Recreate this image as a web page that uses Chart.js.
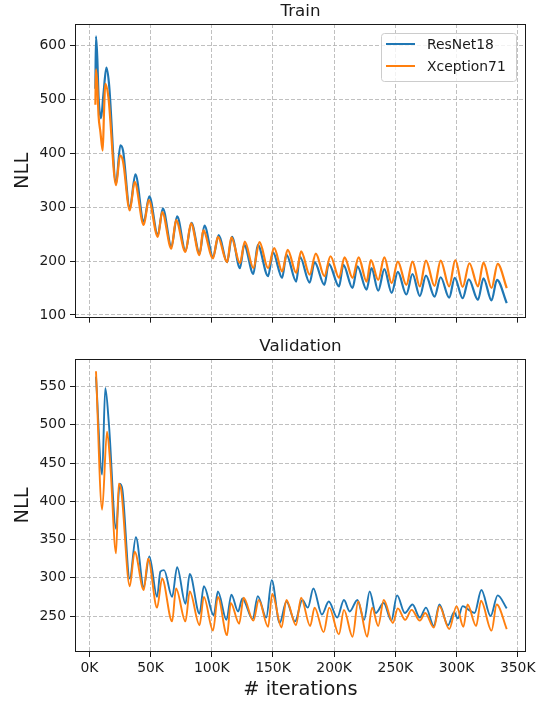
<!DOCTYPE html>
<html>
<head>
<meta charset="utf-8">
<script src="https://cdn.jsdelivr.net/npm/chart.js@4.4.1/dist/chart.umd.min.js"></script>
<style>
  html, body { margin: 0; padding: 0; background: #fff; }
  #wrap { position: relative; width: 542px; height: 702px; }
  canvas { position: absolute; left: 0; }
  #train { top: 0; }
  #valid { top: 330px; }
</style>
</head>
<body>
<div id="wrap">
  <canvas id="train" width="542" height="330"></canvas>
  <canvas id="valid" width="542" height="372"></canvas>
</div>
<script>
// ---- data: iterations in thousands, NLL ----
const seriesNames  = ['ResNet18', 'Xception71'];
const seriesColors = ['#1f77b4', '#ff7f0e'];

const xTicks      = [0, 50, 100, 150, 200, 250, 300, 350];
const xTickLabels = ['0K', '50K', '100K', '150K', '200K', '250K', '300K', '350K'];
const trainTicks  = [100, 200, 300, 400, 500, 600];
const validTicks  = [250, 300, 350, 400, 450, 500, 550];

const resnetTrainK = [4.9, 5.4, 6.5, 7.5, 9.5, 11.5, 13.9, 16, 21.8, 25.3, 27.5, 33, 37.6, 44.4, 49, 55.9, 60, 67, 71.7, 78.5,
  83.4, 90, 94, 101, 105.7, 112.5, 116.5, 123, 126.5, 134, 137.6, 146, 150, 157.5, 161, 169, 172, 180, 184, 192,
  195.6, 204, 207.5, 215, 219, 226.5, 230.5, 236, 241, 247, 252, 259, 264, 270, 275, 282, 287, 294, 298.5, 305,
  310, 317.5, 322, 328.6, 333, 341];
const resnetTrainNLL = [520, 617, 575, 505, 465, 510, 559, 530, 344, 415, 405, 298, 361, 273, 320, 248, 298, 227, 283, 219,
  271, 214, 266, 208, 248, 198, 245, 187, 230, 176, 230, 172, 216, 169, 212, 162, 208, 160, 198, 156,
  195, 153, 193, 150, 190, 147, 187, 145, 185, 141, 180, 138, 176, 135, 173, 134, 170, 132, 169, 131,
  166, 128, 168, 127, 165, 122];

const xceptionTrainK = [4.9, 5.4, 6.5, 7.5, 9, 10.9, 12, 13, 15.5, 21.8, 25, 27.5, 33, 37, 44.4, 48.5, 55.9, 59.5, 67, 70.8,
  78.5, 83, 90, 93, 101, 105, 112.5, 116, 123, 127, 134, 139, 146, 151, 157.5, 162, 169, 173, 180, 185,
  192, 197, 204, 208.5, 215, 220, 226.5, 230, 236, 241, 247, 252, 259, 264, 270, 275, 282, 287, 294, 299,
  305, 310.5, 317.5, 322, 328.6, 333.6, 341];
const xceptionTrainNLL = [490, 556, 525, 470, 440, 405, 480, 529, 505, 341, 396, 385, 294, 347, 267, 313, 245, 291, 223, 276,
  217, 270, 211, 257, 205, 245, 198, 244, 196, 236, 187, 235, 187, 224, 181, 221, 178, 218, 175, 214,
  172, 209, 169, 207, 169, 207, 162, 202, 165, 207, 159, 199, 156, 199, 153, 201, 154, 201, 153, 202,
  152, 196, 153, 197, 150, 195, 150];

const resnetValidK = [5.4, 10.4, 13, 16, 21.8, 24.8, 27, 33, 38, 44.4, 49, 55.3, 58, 61, 67.6, 71.7, 78.5, 82, 90, 93.5,
  101.6, 105, 112, 116, 121.5, 125, 133.4, 137.6, 144.5, 149, 155.5, 161, 168, 174, 178.5, 183, 190, 195.6, 202.5, 208,
  212.7, 219, 224.5, 229, 234, 240.5, 246.7, 251.4, 257.8, 264, 270, 275, 281.4, 286, 293, 298, 301, 305, 310, 314.7,
  320.3, 327.8, 333.6, 341];
const resnetValidNLL = [563, 435, 548, 500, 364, 423, 415, 299, 353, 288, 328, 275, 308, 310, 275, 314, 266, 305, 253, 289,
  251, 282, 245, 278, 256, 273, 246, 276, 248, 297, 241, 269, 243, 271, 261, 286, 252, 269, 248, 271,
  256, 271, 245, 282, 254, 267, 244, 277, 254, 265, 248, 261, 237, 265, 238, 255, 247, 263, 258, 254,
  284, 250, 277, 260];

const xceptionValidK = [5.4, 10.4, 14.4, 17, 21.8, 24, 26, 33, 37, 44.4, 48, 55.3, 59.4, 67.6, 70.8, 78.5, 82, 90, 93.5, 101,
  105, 112.5, 115.5, 122.4, 126, 134, 138.4, 146, 149.4, 157, 161, 168.8, 173, 180.4, 184, 191.4, 196, 203.9, 208, 215,
  219.6, 227, 231, 236, 240.5, 248, 252, 258, 263.3, 270, 274.4, 281.4, 286, 294, 300, 305.6, 309, 316, 320, 328.6,
  332.8, 341];
const xceptionValidNLL = [570, 389, 491, 450, 332, 423, 415, 289, 334, 284, 325, 261, 299, 243, 286, 243, 282, 238, 275, 231,
  275, 225, 267, 240, 274, 244, 271, 236, 279, 235, 271, 238, 274, 237, 261, 229, 261, 226, 258, 223,
  269, 223, 261, 237, 271, 241, 260, 245, 258, 244, 254, 235, 263, 233, 263, 236, 265, 237, 270, 231,
  265, 233];

const toPoints = (ks, vals) => ks.map((k, i) => ({ x: k, y: vals[i] }));

// ---- look ----
const FONT = "'DejaVu Sans', sans-serif";
Chart.defaults.font.family = FONT;
Chart.defaults.color = '#1a1a1a';

const framePlugin = {
  id: 'frame',
  afterDraw(chart, args, opts) {
    const { ctx, chartArea: a } = chart;
    ctx.save();
    // axes box
    ctx.strokeStyle = '#1a1a1a';
    ctx.lineWidth = 1;
    ctx.strokeRect(Math.round(a.left) + 0.5, Math.round(a.top) + 0.5,
                   Math.round(a.width) - 1, Math.round(a.height) - 1);
    // subplot title
    ctx.fillStyle = '#1a1a1a';
    ctx.font = '16.7px ' + FONT;
    ctx.textAlign = 'center';
    ctx.textBaseline = 'alphabetic';
    ctx.fillText(opts.text, (a.left + a.right) / 2, a.top - 8);
    // legend box, upper right
    if (opts.legend) {
      const w = 135, h = 48;
      const x0 = a.right - 10 - w, y0 = a.top + 9;
      ctx.beginPath();
      ctx.roundRect(x0 + 0.5, y0 + 0.5, w, h, 3);
      ctx.fillStyle = 'rgba(255,255,255,0.8)';
      ctx.fill();
      ctx.strokeStyle = '#cccccc';
      ctx.stroke();
      ctx.font = '13.9px ' + FONT;
      ctx.textAlign = 'left';
      ctx.textBaseline = 'middle';
      chart.data.datasets.forEach((ds, i) => {
        const y = y0 + 11 + i * 22;
        ctx.strokeStyle = ds.borderColor;
        ctx.lineWidth = 2;
        ctx.beginPath();
        ctx.moveTo(x0 + 5, y);
        ctx.lineTo(x0 + 34, y);
        ctx.stroke();
        ctx.fillStyle = '#1a1a1a';
        ctx.fillText(ds.label, x0 + 46, y + 1);
      });
    }
    ctx.restore();
  }
};

function makeChart(id, title, yTicks, yMin, yMax, sets, opts) {
  return new Chart(document.getElementById(id), {
    type: 'line',
    data: {
      datasets: sets.map((pts, i) => ({
        label: seriesNames[i],
        data: pts,
        borderColor: seriesColors[i],
        borderWidth: opts.lineWidth,
        pointRadius: 0,
        cubicInterpolationMode: 'monotone',
        order: sets.length - i
      }))
    },
    options: {
      responsive: false,
      animation: false,
      parsing: false,
      layout: { padding: { left: 0, right: 16, top: opts.top, bottom: 0 } },
      plugins: {
        legend: { display: false },
        tooltip: { enabled: false },
        frame: { text: title, legend: opts.legend }
      },
      scales: {
        x: {
          type: 'linear', min: -11.75, max: 356.75,
          afterBuildTicks: s => { s.ticks = xTicks.map(v => ({ value: v })); },
          afterFit: s => { s.height = opts.xHeight; },
          ticks: {
            display: opts.xLabels,
            callback: v => xTickLabels[xTicks.indexOf(v)],
            font: { size: 13.9 }, padding: 3, maxRotation: 0, autoSkip: false
          },
          title: {
            display: opts.xLabels, text: '# iterations',
            font: { size: 19.4 }, padding: { top: 0, bottom: 0 }
          },
          grid: { color: '#b0b0b0', lineWidth: 0.8, tickLength: 5, tickColor: '#1a1a1a', tickWidth: 1, tickBorderDash: [] },
          border: { display: false, dash: [4, 2] }
        },
        y: {
          type: 'linear', min: yMin, max: yMax,
          afterBuildTicks: s => { s.ticks = yTicks.map(v => ({ value: v })); },
          afterFit: s => { s.width = 75; },
          ticks: { font: { size: 13.9 }, padding: 4 },
          title: {
            display: true, text: 'NLL',
            font: { size: 19.4 }, padding: { top: 11, bottom: 0 }
          },
          grid: { color: '#b0b0b0', lineWidth: 0.8, tickLength: 5, tickColor: '#1a1a1a', tickWidth: 1, tickBorderDash: [] },
          border: { display: false, dash: [4, 2] }
        }
      }
    },
    plugins: [framePlugin]
  });
}

makeChart('train', 'Train', trainTicks, 95, 640,
  [toPoints(resnetTrainK, resnetTrainNLL), toPoints(xceptionTrainK, xceptionTrainNLL)],
  { top: 24, xHeight: 12, xLabels: false, legend: true, lineWidth: 2.2 });

makeChart('valid', 'Validation', validTicks, 203, 586,
  [toPoints(resnetValidK, resnetValidNLL), toPoints(xceptionValidK, xceptionValidNLL)],
  { top: 29, xHeight: 50, xLabels: true, legend: false, lineWidth: 1.9 });
</script>
</body>
</html>
